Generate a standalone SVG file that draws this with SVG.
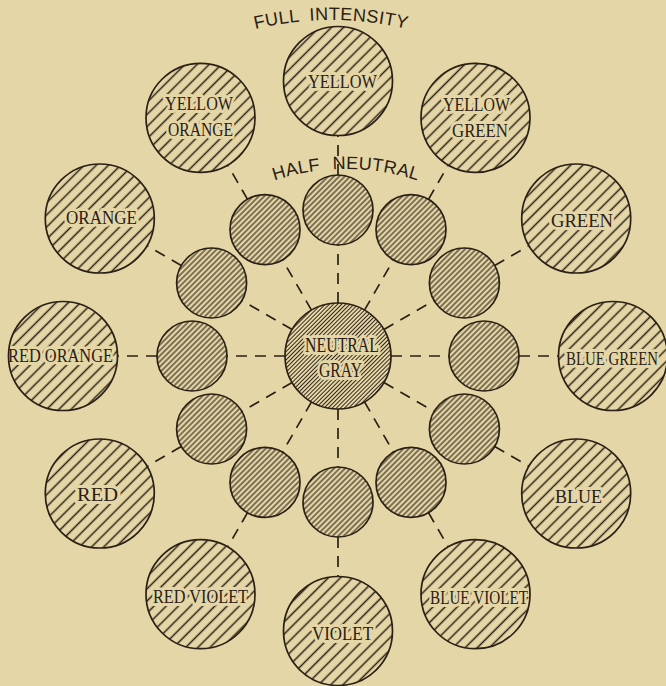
<svg xmlns="http://www.w3.org/2000/svg" width="666" height="686" viewBox="0 0 666 686">
<style>
.ho{fill:url(#hO)}
.hi{fill:url(#hI)}
.hc{fill:url(#hC)}
.ring{fill:none;stroke:#2a2015;stroke-width:1.7}
.lbl{font-family:"Liberation Serif",serif;font-size:19px;fill:#2a2015;stroke:#e4d6a6;stroke-width:6;stroke-linejoin:round;paint-order:stroke}
.ctr{font-size:20px}
.arc{font-family:"Liberation Sans",sans-serif;font-size:18px;fill:#2a2015}
.con{fill:none;stroke:#2a2015;stroke-width:1.7;stroke-dasharray:11 8}
</style>
<defs>
<pattern id="hO" patternUnits="userSpaceOnUse" width="10" height="8.6" patternTransform="rotate(-45)"><line x1="0" y1="4.3" x2="10" y2="4.3" stroke="#2a2015" stroke-width="1.5"/></pattern>
<pattern id="hI" patternUnits="userSpaceOnUse" width="10" height="3.9" patternTransform="rotate(-45)"><line x1="0" y1="1.95" x2="10" y2="1.95" stroke="#2a2015" stroke-width="1.1"/></pattern>
<pattern id="hC" patternUnits="userSpaceOnUse" width="10" height="2.9" patternTransform="rotate(-45)"><line x1="0" y1="1.45" x2="10" y2="1.45" stroke="#2a2015" stroke-width="0.95"/></pattern>
<path id="arcFull" d="M171,62.9 A320,320 0 0 1 491,62.9"/>
<path id="arcHalf" d="M214.1,210.6 A230,230 0 0 1 477.9,210.6"/>
</defs>
<rect width="666" height="686" fill="#e4d6a6"/>

<g id="titles">
<text class="arc" letter-spacing="0.4" word-spacing="5"><textPath href="#arcFull" startOffset="50%" text-anchor="middle">FULL INTENSITY</textPath></text>
<text class="arc" letter-spacing="0.3" word-spacing="7"><textPath href="#arcHalf" startOffset="50%" text-anchor="middle">HALF NEUTRAL</textPath></text>
</g>

<g id="connectors">
<path class="con" d="M338,303 L338,245 M364.5,310.1 L393.5,259.9 M383.9,329.5 L434.1,300.5 M391,356 L449,356 M383.9,382.5 L434.1,411.5 M364.5,401.9 L393.5,452.1 M338,409 L338,467 M311.5,401.9 L282.5,452.1 M292.1,382.5 L241.9,411.5 M285,356 L227,356 M292.1,329.5 L241.9,300.5 M311.5,310.1 L282.5,259.9"/>
<path class="con" d="M338,175 L338,136 M428.5,199.3 L448,165.5 M494.7,265.5 L528.5,246 M519,356 L558,356 M494.7,446.5 L528.5,466 M428.5,512.7 L448,546.5 M338,537 L338,576 M247.5,512.7 L228,546.5 M181.3,446.5 L147.5,466 M157,356 L118,356 M181.3,265.5 L147.5,246 M247.5,199.3 L228,165.5"/>
</g>

<g id="neutral-gray">
<circle class="hc" cx="338" cy="356" r="53"/>
<text class="lbl ctr" x="305" y="352" textLength="74" lengthAdjust="spacingAndGlyphs">NEUTRAL</text>
<text class="lbl ctr" x="319" y="377" textLength="43" lengthAdjust="spacingAndGlyphs">GRAY</text>
<circle class="ring" cx="338" cy="356" r="53"/>
</g>

<g id="half-neutral">
<circle class="hi" cx="338" cy="210" r="35"/><circle class="ring" cx="338" cy="210" r="35"/>
<circle class="hi" cx="411" cy="229.6" r="35"/><circle class="ring" cx="411" cy="229.6" r="35"/>
<circle class="hi" cx="464.4" cy="283" r="35"/><circle class="ring" cx="464.4" cy="283" r="35"/>
<circle class="hi" cx="484" cy="356" r="35"/><circle class="ring" cx="484" cy="356" r="35"/>
<circle class="hi" cx="464.4" cy="429" r="35"/><circle class="ring" cx="464.4" cy="429" r="35"/>
<circle class="hi" cx="411" cy="482.4" r="35"/><circle class="ring" cx="411" cy="482.4" r="35"/>
<circle class="hi" cx="338" cy="502" r="35"/><circle class="ring" cx="338" cy="502" r="35"/>
<circle class="hi" cx="265" cy="482.4" r="35"/><circle class="ring" cx="265" cy="482.4" r="35"/>
<circle class="hi" cx="211.6" cy="429" r="35"/><circle class="ring" cx="211.6" cy="429" r="35"/>
<circle class="hi" cx="192" cy="356" r="35"/><circle class="ring" cx="192" cy="356" r="35"/>
<circle class="hi" cx="211.6" cy="283" r="35"/><circle class="ring" cx="211.6" cy="283" r="35"/>
<circle class="hi" cx="265" cy="229.6" r="35"/><circle class="ring" cx="265" cy="229.6" r="35"/>
</g>

<g id="yellow">
<circle class="ho" cx="338" cy="81" r="54.5"/>
<text class="lbl" x="308" y="88" textLength="69" lengthAdjust="spacingAndGlyphs">YELLOW</text>
<circle class="ring" cx="338" cy="81" r="54.5"/>
</g>
<g id="yellow-green">
<circle class="ho" cx="475.5" cy="117.8" r="54.5"/>
<text class="lbl" x="443" y="111" textLength="67" lengthAdjust="spacingAndGlyphs">YELLOW</text>
<text class="lbl" x="452" y="137" textLength="56" lengthAdjust="spacingAndGlyphs">GREEN</text>
<circle class="ring" cx="475.5" cy="117.8" r="54.5"/>
</g>
<g id="green">
<circle class="ho" cx="576.2" cy="218.5" r="54.5"/>
<text class="lbl" x="551" y="227" textLength="62" lengthAdjust="spacingAndGlyphs">GREEN</text>
<circle class="ring" cx="576.2" cy="218.5" r="54.5"/>
</g>
<g id="blue-green">
<circle class="ho" cx="613" cy="356" r="54.5"/>
<text class="lbl" x="566" y="365" textLength="92" lengthAdjust="spacingAndGlyphs">BLUE GREEN</text>
<circle class="ring" cx="613" cy="356" r="54.5"/>
</g>
<g id="blue">
<circle class="ho" cx="576.2" cy="493.5" r="54.5"/>
<text class="lbl" x="555" y="503" textLength="47" lengthAdjust="spacingAndGlyphs">BLUE</text>
<circle class="ring" cx="576.2" cy="493.5" r="54.5"/>
</g>
<g id="blue-violet">
<circle class="ho" cx="475.5" cy="594.2" r="54.5"/>
<text class="lbl" x="430" y="604" textLength="98" lengthAdjust="spacingAndGlyphs">BLUE VIOLET</text>
<circle class="ring" cx="475.5" cy="594.2" r="54.5"/>
</g>
<g id="violet">
<circle class="ho" cx="338" cy="631" r="54.5"/>
<text class="lbl" x="312" y="640" textLength="61" lengthAdjust="spacingAndGlyphs">VIOLET</text>
<circle class="ring" cx="338" cy="631" r="54.5"/>
</g>
<g id="red-violet">
<circle class="ho" cx="200.5" cy="594.2" r="54.5"/>
<text class="lbl" x="153" y="603" textLength="95" lengthAdjust="spacingAndGlyphs">RED VIOLET</text>
<circle class="ring" cx="200.5" cy="594.2" r="54.5"/>
</g>
<g id="red">
<circle class="ho" cx="99.8" cy="493.5" r="54.5"/>
<text class="lbl" x="77" y="501" textLength="41" lengthAdjust="spacingAndGlyphs">RED</text>
<circle class="ring" cx="99.8" cy="493.5" r="54.5"/>
</g>
<g id="red-orange">
<circle class="ho" cx="63" cy="356" r="54.5"/>
<text class="lbl" x="8" y="362" textLength="105" lengthAdjust="spacingAndGlyphs">RED ORANGE</text>
<circle class="ring" cx="63" cy="356" r="54.5"/>
</g>
<g id="orange">
<circle class="ho" cx="99.8" cy="218.5" r="54.5"/>
<text class="lbl" x="66" y="224" textLength="71" lengthAdjust="spacingAndGlyphs">ORANGE</text>
<circle class="ring" cx="99.8" cy="218.5" r="54.5"/>
</g>
<g id="yellow-orange">
<circle class="ho" cx="200.5" cy="117.8" r="54.5"/>
<text class="lbl" x="165" y="110" textLength="68" lengthAdjust="spacingAndGlyphs">YELLOW</text>
<text class="lbl" x="168" y="136" textLength="65" lengthAdjust="spacingAndGlyphs">ORANGE</text>
<circle class="ring" cx="200.5" cy="117.8" r="54.5"/>
</g>
</svg>
